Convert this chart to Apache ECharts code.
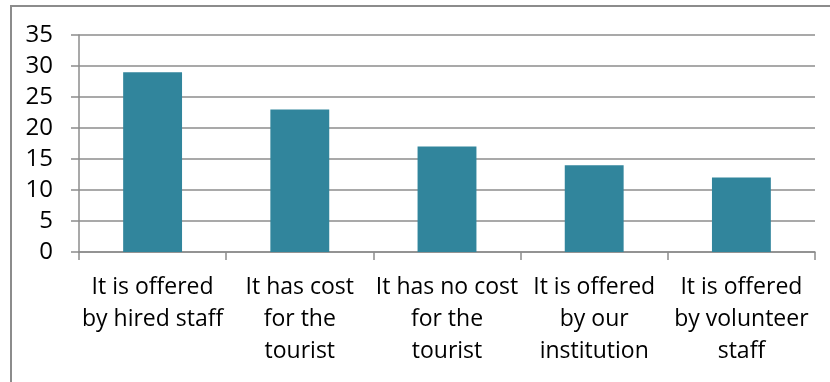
<!DOCTYPE html>
<html>
<head>
<meta charset="utf-8">
<script src="https://cdn.jsdelivr.net/npm/echarts@6/dist/echarts.min.js"></script>
<style>
  html, body { margin: 0; padding: 0; background: #fff; overflow: hidden; }
  #frame { position: absolute; left: 10px; top: 5px; width: 900px; height: 500px;
           border: 2px solid #8c8c8c; box-sizing: border-box; }
  #chart { position: absolute; left: 0; top: 0; width: 830px; height: 382px; }
</style>
</head>
<body>
<div id="frame"></div>
<div id="chart"></div>
<script>
// How guided tourist services are offered (counts)
const categories = [
  'It is offered\nby hired staff',
  'It has cost\nfor the\ntourist',
  'It has no cost\nfor the\ntourist',
  'It is offered\nby our\ninstitution',
  'It is offered\nby volunteer\nstaff'
];
const values = [29, 23, 17, 14, 12];
const yTicks = { min: 0, max: 35, interval: 5 };

const fontFamily = '"Open Sans", Lato, sans-serif';
const axisGray = '#8c8c8c';

const chart = echarts.init(document.getElementById('chart'), null, { renderer: 'canvas' });
chart.setOption({
  animation: false,
  grid: { left: 79, right: 15, top: 35, bottom: 130, containLabel: false },
  xAxis: {
    type: 'category',
    data: categories,
    boundaryGap: true,
    axisLine: { show: true, lineStyle: { color: axisGray, width: 1.5 } },
    axisTick: { show: true, length: 8, alignWithLabel: false, lineStyle: { color: axisGray, width: 1.5 } },
    axisLabel: { color: '#000', fontFamily, fontSize: 23, lineHeight: 32, margin: 19, interval: 0 }
  },
  yAxis: {
    type: 'value',
    min: yTicks.min, max: yTicks.max, interval: yTicks.interval,
    axisLine: { show: true, lineStyle: { color: axisGray, width: 1.5 } },
    axisTick: { show: true, length: 8, lineStyle: { color: axisGray, width: 1.5 } },
    splitLine: { show: true, lineStyle: { color: axisGray, width: 1.5 } },
    axisLabel: { color: '#000', fontFamily, fontSize: 24, margin: 26 }
  },
  series: [{
    type: 'bar',
    data: values,
    barWidth: '40%',
    itemStyle: { color: '#31859C' }
  }]
});
</script>
</body>
</html>
